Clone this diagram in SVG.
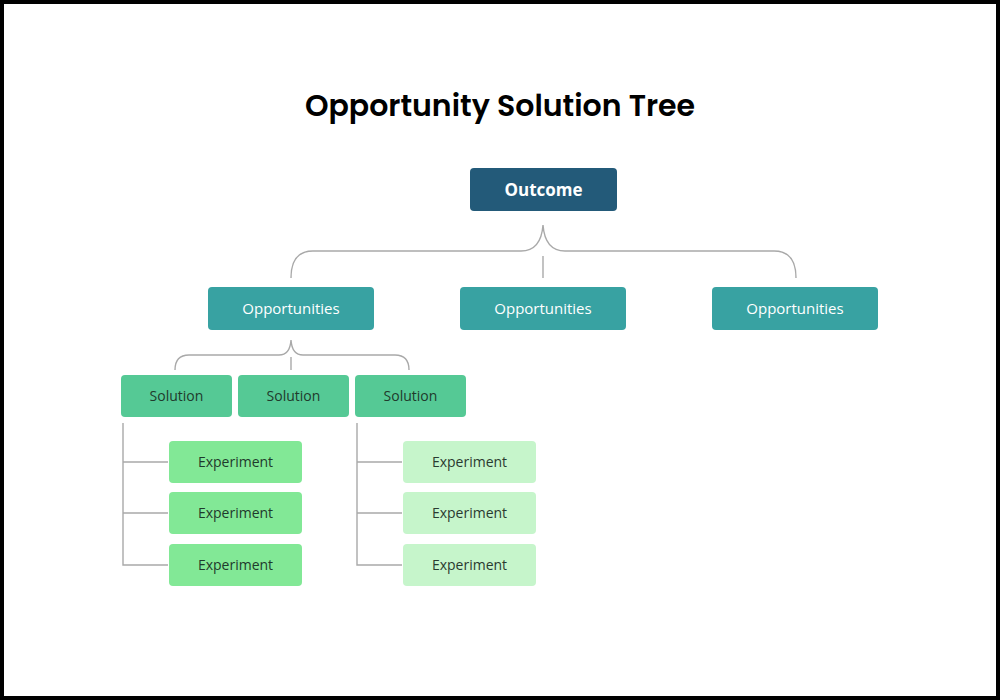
<svg xmlns="http://www.w3.org/2000/svg" width="1000" height="700" viewBox="0 0 1000 700">
<style>
.conn{fill:none;stroke:#a9a9a9;stroke-width:1.4}
.t{font-family:"Open Sans","Noto Sans","Liberation Sans",sans-serif;text-anchor:middle;dominant-baseline:central}
.out{fill:#235a79}
.opp{fill:#38a2a2}
.sol{fill:#55c995}
.exa{fill:#82e896}
.exb{fill:#c6f5cb}
</style>
<rect x="2" y="2" width="996" height="696" fill="#fff" stroke="#000" stroke-width="4"/>
<text x="500" y="105" font-family="Poppins,Inter,'Liberation Sans',sans-serif" font-weight="600" font-size="30" text-anchor="middle" dominant-baseline="central" fill="#000">Opportunity Solution Tree</text>
<g id="connectors">
<path class="conn" d="M291 278 Q291 251 313 251 L521 251 Q541 251 543 225 Q545 251 565 251 L774 251 Q796 251 796 278"/>
<path class="conn" d="M543 256 V278"/>
<path class="conn" d="M175 370 Q175 355 189 355 L279 355 Q290 355 291 340 Q292 355 303 355 L395 355 Q409 355 409 370"/>
<path class="conn" d="M291 357 V370"/>
<path class="conn" d="M123 423 V565 H168 M123 462 H168 M123 513 H168"/>
<path class="conn" d="M357 423 V565 H402 M357 462 H402 M357 513 H402"/>
</g>
<g id="outcome"><rect class="out" x="470" y="168" width="147" height="43" rx="4"/><text class="t" x="543.5" y="189" font-size="17" font-weight="700" fill="#fff">Outcome</text></g>
<g id="opp1"><rect class="opp" x="208" y="287" width="166" height="43" rx="4"/><text class="t" x="291" y="308" font-size="15" fill="#fff">Opportunities</text></g>
<g id="opp2"><rect class="opp" x="460" y="287" width="166" height="43" rx="4"/><text class="t" x="543" y="308" font-size="15" fill="#fff">Opportunities</text></g>
<g id="opp3"><rect class="opp" x="712" y="287" width="166" height="43" rx="4"/><text class="t" x="795" y="308" font-size="15" fill="#fff">Opportunities</text></g>
<g id="sol1"><rect class="sol" x="121" y="375" width="111" height="42" rx="4"/><text class="t" x="176.5" y="395" font-size="14" fill="#1f3a2c">Solution</text></g>
<g id="sol2"><rect class="sol" x="238" y="375" width="111" height="42" rx="4"/><text class="t" x="293.5" y="395" font-size="14" fill="#1f3a2c">Solution</text></g>
<g id="sol3"><rect class="sol" x="355" y="375" width="111" height="42" rx="4"/><text class="t" x="410.5" y="395" font-size="14" fill="#1f3a2c">Solution</text></g>
<g id="exp1"><rect class="exa" x="169" y="441" width="133" height="42" rx="4"/><text class="t" x="235.5" y="461" font-size="14" fill="#1f3a2c">Experiment</text></g>
<g id="exp2"><rect class="exa" x="169" y="492" width="133" height="42" rx="4"/><text class="t" x="235.5" y="512" font-size="14" fill="#1f3a2c">Experiment</text></g>
<g id="exp3"><rect class="exa" x="169" y="544" width="133" height="42" rx="4"/><text class="t" x="235.5" y="564" font-size="14" fill="#1f3a2c">Experiment</text></g>
<g id="exp4"><rect class="exb" x="403" y="441" width="133" height="42" rx="4"/><text class="t" x="469.5" y="461" font-size="14" fill="#2a3a30">Experiment</text></g>
<g id="exp5"><rect class="exb" x="403" y="492" width="133" height="42" rx="4"/><text class="t" x="469.5" y="512" font-size="14" fill="#2a3a30">Experiment</text></g>
<g id="exp6"><rect class="exb" x="403" y="544" width="133" height="42" rx="4"/><text class="t" x="469.5" y="564" font-size="14" fill="#2a3a30">Experiment</text></g>
</svg>
